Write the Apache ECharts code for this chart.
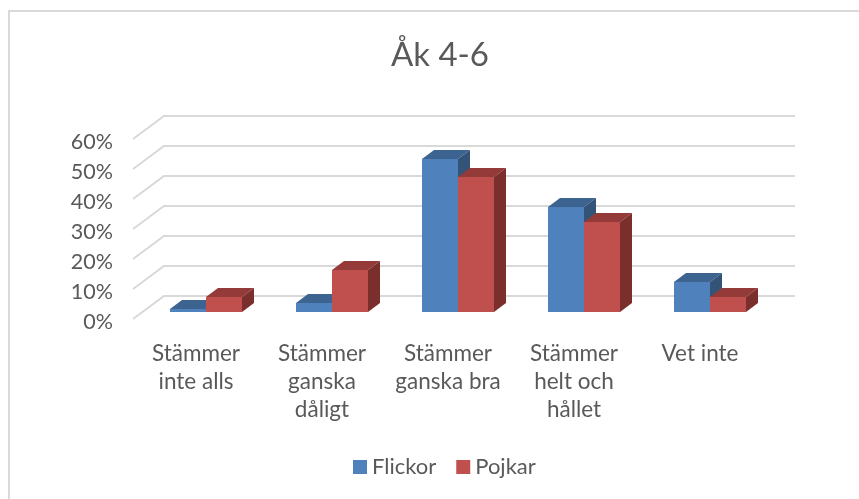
<!DOCTYPE html>
<html>
<head>
<meta charset="utf-8">
<style>html,body{margin:0;background:#fff}#main{width:859px;height:499px}</style>
<script src="https://cdn.jsdelivr.net/npm/echarts@6/dist/echarts.min.js"></script>
</head>
<body>
<div id="main"></div>
<script>
var categories = ['Stämmer\ninte alls', 'Stämmer\nganska\ndåligt', 'Stämmer\nganska bra', 'Stämmer\nhelt och\nhållet', 'Vet inte'];
var flickor = [1, 3, 51, 35, 10];
var pojkar = [5, 14, 45, 30, 5];
var yTicks = [0, 10, 20, 30, 40, 50, 60];

var font = 'Lato';
var textColor = '#595959';

// the 3d look: bars stand a bit behind the axis plane, walls further back
var barShift = [10, -7];
var barDepth = [12, -9];
var wallDepth = [31, -23];
var barWidth = 36;

function barRender(front, top, side, dir) {
    return function(params, api) {
        var p = api.coord([api.value(0), api.value(1)]);
        var base = api.coord([api.value(0), 0]);
        var x0 = p[0] + barShift[0] + (dir < 0 ? -barWidth : 0);
        var x1 = x0 + barWidth;
        var yTop = p[1] + barShift[1];
        var yBase = base[1] + barShift[1];
        var dx = barDepth[0], dy = barDepth[1];
        return {
            type: 'group',
            children: [{
                type: 'polygon',
                shape: { points: [[x0, yTop], [x0 + dx, yTop + dy], [x1 + dx, yTop + dy], [x1, yTop]] },
                style: { fill: top }
            }, {
                type: 'polygon',
                shape: { points: [[x1, yTop], [x1 + dx, yTop + dy], [x1 + dx, yBase + dy], [x1, yBase]] },
                style: { fill: side }
            }, {
                type: 'rect',
                shape: { x: x0, y: yTop, width: barWidth, height: yBase - yTop },
                style: { fill: front }
            }]
        };
    };
}

function gridRender(params, api) {
    var y = api.coord([0, api.value(1)])[1];
    var x = params.coordSys.x;
    var w = params.coordSys.width;
    return {
        type: 'polyline',
        shape: { points: [[x, y], [x + wallDepth[0], y + wallDepth[1]], [x + wallDepth[0] + w + 1, y + wallDepth[1]]] },
        style: { fill: 'none', stroke: '#d9d9d9', lineWidth: 2 }
    };
}

var chart = echarts.init(document.getElementById('main'));

var option = {
    animation: false,
    backgroundColor: '#fff',
    title: {
        text: 'Åk 4-6',
        left: 435,
        top: 34,
        textAlign: 'center',
        textStyle: { fontFamily: font, fontSize: 33, fontWeight: 'normal', color: textColor }
    },
    legend: {
        data: ['Flickor', 'Pojkar'],
        left: 348,
        top: 451,
        icon: 'rect',
        itemWidth: 14,
        itemHeight: 14,
        itemGap: 20,
        textStyle: { fontFamily: font, fontSize: 22, color: textColor }
    },
    grid: { left: 133, top: 139, width: 630, height: 180 },
    xAxis: {
        type: 'category',
        data: categories,
        axisLine: { show: false },
        axisTick: { show: false },
        axisLabel: { interval: 0, margin: 21, lineHeight: 28, verticalAlign: 'top', fontFamily: font, fontSize: 22.5, color: textColor }
    },
    yAxis: {
        type: 'value',
        min: 0,
        max: 60,
        interval: 10,
        splitLine: { show: false },
        axisLine: { show: false },
        axisTick: { show: false },
        // small line box with top align pushes the text a few px under the tick
        axisLabel: { margin: 20, verticalAlign: 'top', lineHeight: 6, formatter: '{value}%', fontFamily: font, fontSize: 21.5, color: textColor }
    },
    // only the top and left chart border are in the picture
    graphic: [{
        type: 'polyline',
        silent: true,
        z: -1,
        shape: { points: [[9, 499], [9, 11], [859, 11]] },
        style: { fill: 'none', stroke: '#d9d9d9', lineWidth: 2 }
    }],
    series: [{
        type: 'custom',
        silent: true,
        clip: false,
        renderItem: gridRender,
        data: yTicks.map(function(v) { return [0, v]; }),
        z: 1
    }, {
        name: 'Flickor',
        type: 'custom',
        clip: false,
        itemStyle: { color: '#4f81bd' },
        renderItem: barRender('#4f81bd', '#3d6491', '#335377', -1),
        encode: { x: 0, y: 1 },
        data: flickor.map(function(v, i) { return [i, v]; }),
        z: 2
    }, {
        name: 'Pojkar',
        type: 'custom',
        clip: false,
        itemStyle: { color: '#c0504d' },
        renderItem: barRender('#c0504d', '#943a38', '#7a2f2d', 1),
        encode: { x: 0, y: 1 },
        data: pojkar.map(function(v, i) { return [i, v]; }),
        z: 3
    }]
};
chart.setOption(option);

window.addEventListener('resize', function() {
    chart.resize();
});
</script>
</body>
</html>
